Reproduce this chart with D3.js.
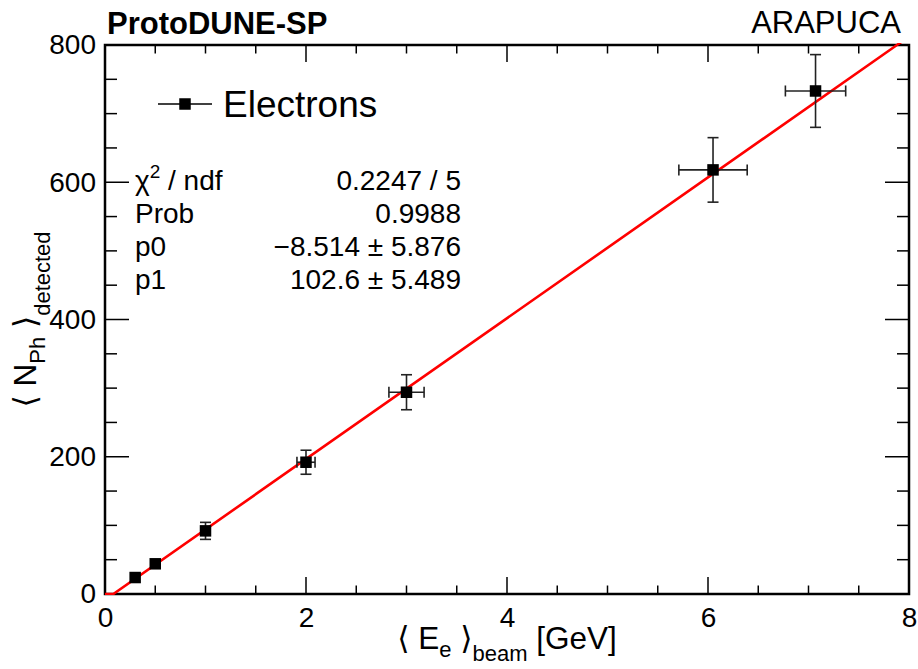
<!DOCTYPE html>
<html>
<head>
<meta charset="utf-8">
<script src="https://cdn.jsdelivr.net/npm/d3@7"></script>
<style>
  html, body { margin: 0; padding: 0; background: #fff; }
  svg { display: block; }
  text { font-family: "Liberation Sans", Arial, Helvetica, "DejaVu Sans", sans-serif; fill: #000; }
</style>
</head>
<body>
<script>
// ---- data ----
const energy    = [0.30, 0.50, 1.00, 2.00, 3.00, 6.05, 7.07];
const energyErr = [0.03, 0.05, 0.05, 0.09, 0.175, 0.34, 0.30];
const nph       = [24, 44, 92, 192, 294, 618, 733];
const nphErr    = [4, 6, 12.4, 17.5, 25.5, 47, 53];
const xTicks = [0, 2, 4, 6, 8];
const yTicks = [0, 200, 400, 600, 800];
const fitP0 = -8.514, fitP1 = 102.6;
const statLabels = ["χ2 / ndf", "Prob", "p0", "p1"];
const statValues = ["0.2247 / 5", "0.9988", "\u22128.514 \u00b1 5.876", "102.6 \u00b1 5.489"];
const legendLabel = "Electrons";
const titleLeft = "ProtoDUNE-SP";
const titleRight = "ARAPUCA";

const W = 918, H = 669;
const m = {left: 105, right: 9, top: 45, bottom: 75};
const svg = d3.select("body").append("svg").attr("width", W).attr("height", H);

const x = d3.scaleLinear().domain([0, 8]).range([m.left, W - m.right]);
const y = d3.scaleLinear().domain([0, 800]).range([H - m.bottom, m.top]);
const x0 = m.left, x1 = W - m.right, y0 = H - m.bottom, y1 = m.top;

// clip
svg.append("defs").append("clipPath").attr("id", "clip")
  .append("rect").attr("x", x0).attr("y", y1 - 2).attr("width", x1 - x0).attr("height", y0 - y1 + 3);

// ticks
const xMinor = d3.range(0, 8.001, 0.5);
const yMinor = d3.range(0, 800.1, 50);
const tk = svg.append("g").attr("stroke", "#000").attr("stroke-width", 1.5);
xMinor.forEach(v => {
  const major = Math.abs(v / 2 - Math.round(v / 2)) < 1e-6;
  const L = major ? 17 : 8.5;
  tk.append("line").attr("x1", x(v)).attr("x2", x(v)).attr("y1", y0).attr("y2", y0 - L);
  tk.append("line").attr("x1", x(v)).attr("x2", x(v)).attr("y1", y1).attr("y2", y1 + L);
});
yMinor.forEach(v => {
  const major = v % 200 === 0;
  const L = major ? 24 : 12;
  tk.append("line").attr("y1", y(v)).attr("y2", y(v)).attr("x1", x0).attr("x2", x0 + L);
  tk.append("line").attr("y1", y(v)).attr("y2", y(v)).attr("x1", x1).attr("x2", x1 - L);
});

// axes labels via d3 axes (ticks hidden; only labels)
const gx = svg.append("g").attr("transform", `translate(0,${y0})`)
  .call(d3.axisBottom(x).tickValues(xTicks).tickSize(0).tickPadding(13).tickFormat(d3.format("d")));
gx.select(".domain").remove();
gx.selectAll("text").attr("font-size", 28).attr("font-family", "Liberation Sans, Arial, sans-serif").attr("dy", "0.71em");
const gy = svg.append("g").attr("transform", `translate(${x0},0)`)
  .call(d3.axisLeft(y).tickValues(yTicks).tickSize(0).tickPadding(9).tickFormat(d3.format("d")));
gy.select(".domain").remove();
gy.selectAll("text").attr("font-size", 28).attr("font-family", "Liberation Sans, Arial, sans-serif");

// frame
svg.append("rect").attr("x", x0).attr("y", y1).attr("width", x1 - x0).attr("height", y0 - y1)
  .attr("fill", "none").attr("stroke", "#000").attr("stroke-width", 2.5);

// fit line
const fx = (v) => fitP0 + fitP1 * v;
const fitXs = [0, -fitP0 / fitP1, (800 - fitP0) / fitP1, 8];
svg.append("path")
  .attr("clip-path", "url(#clip)")
  .attr("d", d3.line().x(d => x(d)).y(d => y(Math.max(0, fx(d))))(fitXs))
  .attr("fill", "none").attr("stroke", "#ff0000").attr("stroke-width", 2.6);

// data: error bars + markers
const ms = 11.5, cap = 11;
const pts = energy.map((e, i) => ({e, ee: energyErr[i], n: nph[i], ne: nphErr[i]}));
const eg = svg.append("g").attr("stroke", "#222").attr("stroke-width", 1.6);
pts.forEach(p => {
  const cx = x(p.e), cy = y(p.n);
  const dxp = x(p.e + p.ee) - cx, dyp = cy - y(p.n + p.ne);
  if (dyp > ms / 2) {
    eg.append("line").attr("x1", cx).attr("x2", cx).attr("y1", cy - dyp).attr("y2", cy + dyp);
    eg.append("line").attr("x1", cx - cap / 2).attr("x2", cx + cap / 2).attr("y1", cy - dyp).attr("y2", cy - dyp);
    eg.append("line").attr("x1", cx - cap / 2).attr("x2", cx + cap / 2).attr("y1", cy + dyp).attr("y2", cy + dyp);
  }
  if (dxp > ms / 2) {
    eg.append("line").attr("y1", cy).attr("y2", cy).attr("x1", cx - dxp).attr("x2", cx + dxp);
    eg.append("line").attr("y1", cy - cap / 2).attr("y2", cy + cap / 2).attr("x1", cx - dxp).attr("x2", cx - dxp);
    eg.append("line").attr("y1", cy - cap / 2).attr("y2", cy + cap / 2).attr("x1", cx + dxp).attr("x2", cx + dxp);
  }
});
svg.append("g").selectAll("rect").data(pts).join("rect")
  .attr("x", d => x(d.e) - ms / 2).attr("y", d => y(d.n) - ms / 2)
  .attr("width", ms).attr("height", ms).attr("fill", "#000");

// titles
svg.append("text").attr("x", 107).attr("y", 34).attr("font-size", 31).attr("font-weight", "bold").text(titleLeft);
svg.append("text").attr("x", 901).attr("y", 33).attr("font-size", 31).attr("text-anchor", "end").text(titleRight);

// legend
const lg = svg.append("g");
lg.append("line").attr("x1", 158).attr("x2", 212).attr("y1", 104).attr("y2", 104).attr("stroke", "#000").attr("stroke-width", 1.6);
lg.append("rect").attr("x", 185 - ms / 2).attr("y", 104 - ms / 2).attr("width", ms).attr("height", ms).attr("fill", "#000");
lg.append("text").attr("x", 223).attr("y", 117).attr("font-size", 37).text(legendLabel);

// stats
const st = svg.append("g");
statLabels.forEach((lab, i) => {
  const yy = 190 + i * 33;
  const t = st.append("text").attr("x", 135).attr("y", yy).attr("font-size", 28);
  if (lab.startsWith("χ2")) {
    t.append("tspan").text("χ");
    t.append("tspan").attr("font-size", 19).attr("dy", -12).text("2");
    t.append("tspan").attr("dy", 12).text(" / ndf");
  } else {
    t.text(lab);
  }
  st.append("text").attr("x", 461).attr("y", yy).attr("text-anchor", "end").attr("font-size", 28).text(statValues[i]);
});

// axis titles
function richTitle(g, parts) {
  parts.forEach(p => {
    const ts = g.append("tspan").text(p.t);
    if (p.sub) ts.attr("font-size", p.fs).attr("dy", p.dy);
    if (p.back) ts.attr("dy", p.back);
  });
}
const xt = svg.append("text").attr("x", (x0 + x1) / 2).attr("y", 649).attr("text-anchor", "middle").attr("font-size", 31.5);
richTitle(xt, [
  {t: "\u27e8 E"},
  {t: "e", sub: true, fs: 22, dy: 8},
  {t: " \u27e9", back: -8},
  {t: "beam", sub: true, fs: 22, dy: 12},
  {t: " [GeV]", back: -12}
]);
const ytt = svg.append("text").attr("transform", `translate(36,${(y0 + y1) / 2}) rotate(-90)`)
  .attr("text-anchor", "middle").attr("font-size", 31.5);
richTitle(ytt, [
  {t: "\u27e8 N"},
  {t: "Ph", sub: true, fs: 22, dy: 9},
  {t: " \u27e9", back: -9},
  {t: "detected", sub: true, fs: 22, dy: 14}
]);
</script>
</body>
</html>
